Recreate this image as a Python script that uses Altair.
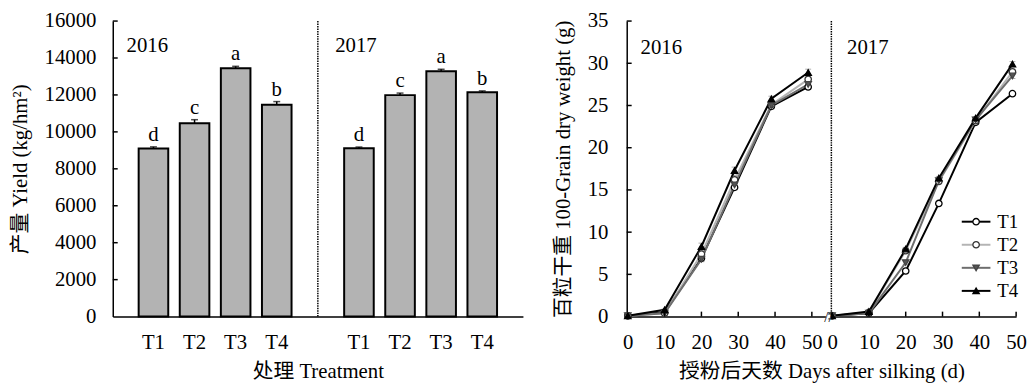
import altair as alt
import pandas as pd

FONT = "Liberation Serif, Noto Sans CJK SC"

# ---------------- data: yield bar chart ----------------
treat = ["T1", "T2", "T3", "T4"]
years = ["2016", "2017"]
yield_2016 = [9100, 10470, 13450, 11470]
yield_2017 = [9110, 11990, 13280, 12140]
yerr_2016 = [90, 190, 100, 170]
yerr_2017 = [70, 110, 110, 80]
letters_2016 = ["d", "c", "a", "b"]
letters_2017 = ["d", "c", "a", "b"]
yield_ticks = [0, 2000, 4000, 6000, 8000, 10000, 12000, 14000, 16000]

# ---------------- data: 100-grain dry weight ----------------
days_2016 = [0, 10, 20, 29, 39, 49]
days_2017 = [0, 10, 20, 29, 39, 49]
w2016_T1 = [0.1, 0.5, 6.9, 15.3, 24.9, 27.2]
w2016_T2 = [0.1, 0.4, 7.4, 16.2, 25.1, 28.1]
w2016_T3 = [0.1, 0.4, 6.8, 15.6, 25.0, 27.5]
w2016_T4 = [0.1, 0.8, 8.3, 17.3, 25.8, 28.9]
w2017_T1 = [0.1, 0.4, 5.4, 13.4, 23.0, 26.4]
w2017_T2 = [0.1, 0.5, 7.8, 16.0, 23.2, 29.0]
w2017_T3 = [0.1, 0.4, 6.4, 16.1, 23.3, 28.5]
w2017_T4 = [0.1, 0.6, 8.0, 16.4, 23.5, 29.9]
e2016_T1 = [0.0, 0.1, 0.3, 0.3, 0.3, 0.3]
e2016_T2 = [0.0, 0.1, 0.4, 0.5, 0.4, 0.5]
e2016_T3 = [0.0, 0.1, 0.3, 0.4, 0.3, 0.4]
e2016_T4 = [0.0, 0.1, 0.4, 0.4, 0.3, 0.4]
e2017_T1 = [0.0, 0.1, 0.2, 0.2, 0.2, 0.2]
e2017_T2 = [0.0, 0.1, 0.2, 0.2, 0.2, 0.3]
e2017_T3 = [0.0, 0.1, 0.2, 0.2, 0.2, 0.3]
e2017_T4 = [0.0, 0.1, 0.2, 0.2, 0.2, 0.3]
weight_ticks = [0, 5, 10, 15, 20, 25, 30, 35]
day_ticks = [0, 10, 20, 30, 40, 50]

line_colors = ["#000000", "#b4b4b4", "#6e6e6e", "#000000"]
marker_fill = ["#ffffff", "#ffffff", "#555555", "#000000"]
marker_stroke = ["#000000", "#333333", "#444444", "#000000"]
marker_shape = ["circle", "circle", "triangle-down", "triangle-up"]

# ---------------- layout constants ----------------
H = 299
W1 = 415
W2 = 394
OFF = 55.5            # horizontal offset of the 2017 panel in the right chart
XDOM = [-0.3, 105.5]
FS = 21

# ================= left chart: yield bars =================
rows = []
for yr, vals, errs, lets in [("2016", yield_2016, yerr_2016, letters_2016),
                             ("2017", yield_2017, yerr_2017, letters_2017)]:
    for t, v, e, l in zip(treat, vals, errs, lets):
        rows.append(dict(key=f"{yr}|{t}", v=v, top=v + e, letter=l))
bars_df = pd.DataFrame(rows)
x_domain = [f"2016|{t}" for t in treat] + ["gap"] + [f"2017|{t}" for t in treat]

x_axis_bar = alt.Axis(
    title="处理 Treatment",
    labelExpr="datum.value == 'gap' ? '' : split(datum.value, '|')[1]",
    ticks=False, labelAngle=0, labelPadding=15, titlePadding=9,
)
y_axis_bar = alt.Axis(values=yield_ticks, format="d", ticks=False, labelPadding=17,
                      title="产量 Yield (kg/hm²)", titlePadding=14)
y_scale_bar = alt.Scale(domain=[0, 16000], nice=False)


def xb():
    return alt.X("key:N", scale=alt.Scale(domain=x_domain, paddingInner=0.28, paddingOuter=0.63),
                 axis=x_axis_bar)


def yb(field):
    return alt.Y(field, type="quantitative", scale=y_scale_bar, axis=y_axis_bar)


base_bar = alt.Chart(bars_df)
bars = base_bar.mark_bar(color="#b3b3b3", stroke="black", strokeWidth=2).encode(x=xb(), y=yb("v"))
err_rule = base_bar.mark_rule(color="black", strokeWidth=1.5).encode(x=xb(), y=yb("v"), y2="top:Q")
err_cap = base_bar.mark_tick(color="black", size=7, thickness=1.5).encode(x=xb(), y=yb("top"))
letters = base_bar.mark_text(font=FONT, fontSize=FS, baseline="alphabetic", dy=-6, color="black").encode(
    x=xb(), y=yb("top"), text="letter:N")

div_df = pd.DataFrame({"key": ["gap"], "y0": [0], "y1": [16000]})
divider_l = alt.Chart(div_df).mark_rule(color="black", strokeWidth=1.5, strokeDash=[1.5, 1]).encode(
    x=xb(), y=yb("y0"), y2="y1:Q")

ytick_df = pd.DataFrame({"yt": yield_ticks[1:]})
yticks_l = alt.Chart(ytick_df).mark_rule(color="black", strokeWidth=1.5).encode(
    x=alt.value(0), x2=alt.value(5), y=yb("yt"))

yr_l_df = pd.DataFrame({"label": years, "px": [14, 225]})
year_l = alt.Chart(yr_l_df).mark_text(font=FONT, fontSize=FS, align="left", baseline="middle",
                                      color="black").encode(
    x=alt.X("px:Q", scale=None), y=alt.value(25), text="label:N")

left = alt.layer(bars, err_rule, err_cap, letters, divider_l, yticks_l, year_l).properties(width=W1, height=H)

# ================= right chart: grain weight lines =================
wts = {
    ("2016", "T1"): (w2016_T1, e2016_T1), ("2016", "T2"): (w2016_T2, e2016_T2),
    ("2016", "T3"): (w2016_T3, e2016_T3), ("2016", "T4"): (w2016_T4, e2016_T4),
    ("2017", "T1"): (w2017_T1, e2017_T1), ("2017", "T2"): (w2017_T2, e2017_T2),
    ("2017", "T3"): (w2017_T3, e2017_T3), ("2017", "T4"): (w2017_T4, e2017_T4),
}
lrows = []
for (yr, t), (ws, es) in wts.items():
    days = days_2016 if yr == "2016" else days_2017
    off = 0 if yr == "2016" else OFF
    for d, w, e in zip(days, ws, es):
        lrows.append(dict(series=t, year=yr, xx=d + off, w=w, lo=w - e, hi=w + e))
line_df = pd.DataFrame(lrows)

x_vals = day_ticks + [d + OFF for d in day_ticks]
x_axis_line = alt.Axis(
    values=x_vals, ticks=False, labelPadding=15, titlePadding=9, labelOverlap=False, labelFlush=False,
    labelExpr=f"datum.value > 52 ? format(datum.value - {OFF}, '.0f') : format(datum.value, '.0f')",
    title="授粉后天数 Days after silking (d)",
)
y_axis_line = alt.Axis(values=weight_ticks, ticks=False, labelPadding=19,
                       title="百粒干重 100-Grain dry weight (g)", titlePadding=14)
x_scale_line = alt.Scale(domain=XDOM, nice=False, zero=False)
y_scale_line = alt.Scale(domain=[0, 35], nice=False)


def xl(field):
    return alt.X(field, type="quantitative", scale=x_scale_line, axis=x_axis_line)


def yl(field):
    return alt.Y(field, type="quantitative", scale=y_scale_line, axis=y_axis_line)


color_enc = alt.Color("series:N", scale=alt.Scale(domain=treat, range=line_colors), legend=None)
shape_enc = alt.Shape("series:N", scale=alt.Scale(domain=treat, range=marker_shape), legend=None)
fill_enc = alt.Fill("series:N", scale=alt.Scale(domain=treat, range=marker_fill), legend=None)
stroke_enc = alt.Stroke("series:N", scale=alt.Scale(domain=treat, range=marker_stroke), legend=None)

base_line = alt.Chart(line_df)
lines = base_line.mark_line(strokeWidth=2).encode(x=xl("xx"), y=yl("w"), color=color_enc, detail="year:N")
l_err = base_line.mark_rule(color="#8c8c8c", strokeWidth=1).encode(x=xl("xx"), y=yl("lo"), y2="hi:Q")
l_cap_lo = base_line.mark_tick(orient="horizontal", color="#8c8c8c", size=6, thickness=1).encode(x=xl("xx"), y=yl("lo"))
l_cap_hi = base_line.mark_tick(orient="horizontal", color="#8c8c8c", size=6, thickness=1).encode(x=xl("xx"), y=yl("hi"))
pts = base_line.mark_point(filled=True, size=42, strokeWidth=1.3, opacity=1).encode(
    x=xl("xx"), y=yl("w"), shape=shape_enc, fill=fill_enc, stroke=stroke_enc)

div_r_df = pd.DataFrame({"xd": [OFF - 0.2], "y0": [0], "y1": [35]})
divider_r = alt.Chart(div_r_df).mark_rule(color="black", strokeWidth=1.5, strokeDash=[1.5, 1]).encode(
    x=xl("xd"), y=yl("y0"), y2="y1:Q")

brk_df = pd.DataFrame({"xb": [OFF - 1.0], "x0": [OFF - 1.7], "x1": [OFF - 0.4], "y0": [0], "t": ["//"]})
brk_gap = alt.Chart(brk_df).mark_rule(color="white", strokeWidth=4).encode(x=xl("x0"), x2="x1:Q", y=yl("y0"))
brk_txt = alt.Chart(brk_df).mark_text(font=FONT, fontSize=15, baseline="middle", color="black").encode(
    x=xl("xb"), y=yl("y0"), text="t:N")

wtick_df = pd.DataFrame({"yt": weight_ticks[1:]})
yticks_r = alt.Chart(wtick_df).mark_rule(color="black", strokeWidth=1.5).encode(
    x=alt.value(0), x2=alt.value(5), y=yl("yt"))
xtick_df = pd.DataFrame({"xt": day_ticks[1:] + [d + OFF for d in day_ticks[1:]]})
xticks_r = alt.Chart(xtick_df).mark_rule(color="black", strokeWidth=1.5).encode(
    x=xl("xt"), y=alt.value(H), y2=alt.value(H - 5))

yr_r_df = pd.DataFrame({"label": years, "px": [14, 223]})
year_r = alt.Chart(yr_r_df).mark_text(font=FONT, fontSize=FS, align="left", baseline="middle",
                                      color="black").encode(
    x=alt.X("px:Q", scale=None), y=alt.value(27), text="label:N")

main_r = alt.layer(divider_r, l_err, l_cap_lo, l_cap_hi, lines, pts, brk_gap, brk_txt,
                   yticks_r, xticks_r, year_r)

# custom legend (line + marker + label), one row per treatment
leg_df = pd.DataFrame({"series": treat, "row": list(range(len(treat)))})
leg_y = alt.Y("row:Q", scale=alt.Scale(domain=[0, len(treat) - 1], range=[203, 273], nice=False, zero=False),
              axis=None)
leg_base = alt.Chart(leg_df)
leg_line = leg_base.mark_rule(strokeWidth=2).encode(x=alt.value(339), x2=alt.value(368), y=leg_y, color=color_enc)
leg_pt = leg_base.mark_point(filled=True, size=42, strokeWidth=1.3, opacity=1).encode(
    x=alt.value(353.5), y=leg_y, shape=shape_enc, fill=fill_enc, stroke=stroke_enc)
leg_txt = leg_base.mark_text(font=FONT, fontSize=19, align="left", baseline="middle", color="black").encode(
    x=alt.value(375), y=leg_y, text="series:N")
legend_r = alt.layer(leg_line, leg_pt, leg_txt)

right = alt.layer(main_r, legend_r).resolve_scale(y="independent").properties(width=W2, height=H)

chart = alt.hconcat(left, right, spacing=30).properties(
    padding={"left": 1, "top": 0, "right": 0, "bottom": 0}
).configure_view(stroke=None).configure_axis(
    labelFont=FONT, titleFont=FONT, labelFontSize=FS, titleFontSize=FS,
    labelColor="black", titleColor="black", titleFontWeight="normal",
    domainColor="black", domainWidth=1.5, grid=False,
)

chart.save("out.html", embed_options={"renderer": "svg", "actions": False})
